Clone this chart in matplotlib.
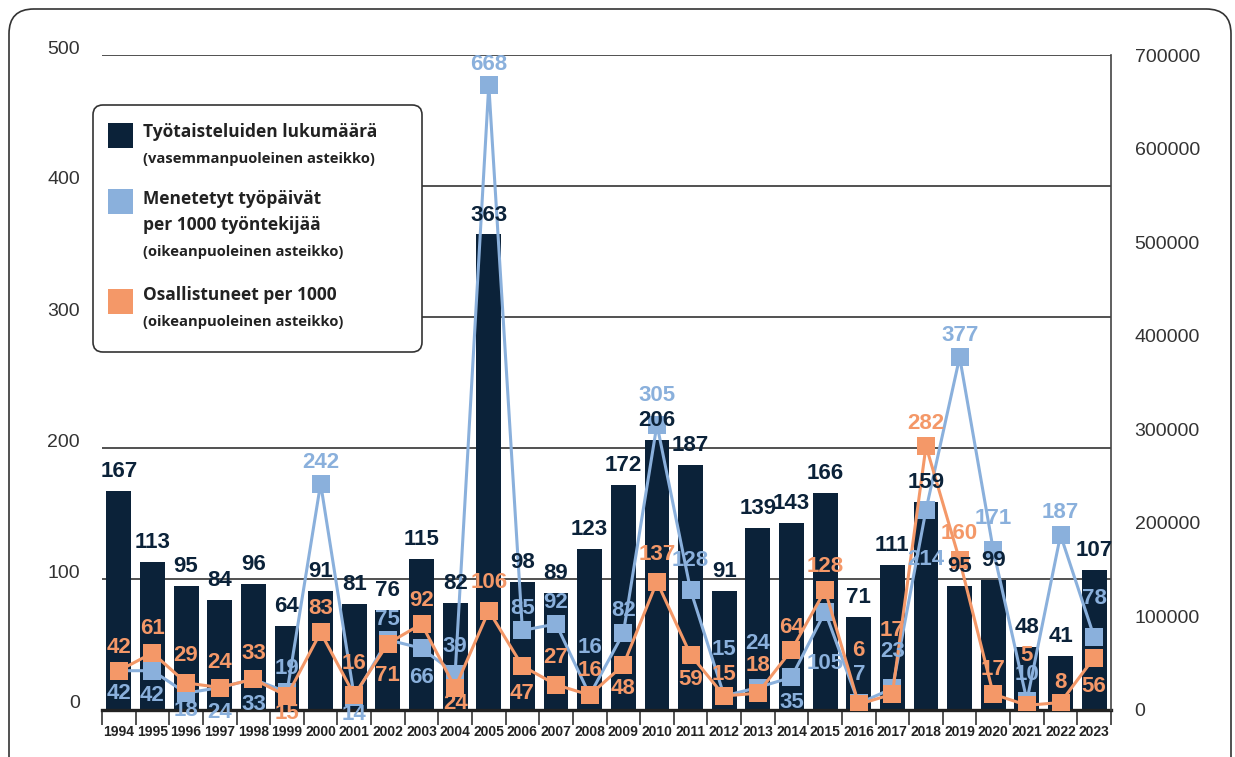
import matplotlib
matplotlib.use("Agg")
import matplotlib.pyplot as plt
from matplotlib.patches import FancyBboxPatch, Rectangle
from matplotlib.transforms import ScaledTranslation
from matplotlib.ticker import FuncFormatter, FixedLocator

# ---------------- data ----------------
years = [str(y) for y in range(1994, 2024)]
strikes = [167, 113, 95, 84, 96, 64, 91, 81, 76, 115, 82, 363, 98, 89, 123,
           172, 206, 187, 91, 139, 143, 166, 71, 111, 159, 95, 99, 48, 41, 107]
lost_days = [42, 42, 18, 24, 33, 19, 242, 14, 75, 66, 39, 668, 85, 92, 16,
             82, 305, 128, 15, 24, 35, 105, 7, 23, 214, 377, 171, 10, 187, 78]
participants = [42, 61, 29, 24, 33, 15, 83, 16, 71, 92, 24, 106, 47, 27, 16,
                48, 137, 59, 15, 18, 64, 128, 6, 17, 282, 160, 17, 5, 8, 56]

legend_titles = ["Työtaisteluiden lukumäärä",
                 "Menetetyt työpäivät\nper 1000 työntekijää",
                 "Osallistuneet per 1000"]
legend_subs = ["(vasemmanpuoleinen asteikko)",
               "(oikeanpuoleinen asteikko)",
               "(oikeanpuoleinen asteikko)"]

# label placement: vertical offset of label centre from marker, in pixels (+ = above)
blue_off = [-23, -25, -17, -25, -25, 24, 21, -18, 20, -29, 27, 20, 22, 21, 48,
            23, 29, 30, 46, 44, -25, -52, 29, 37, -50, 22, 31, 26, 23, 39]
orange_off = [23, 24, 27, 25, 26, -18, 24, 32, -32, 23, -16, 28, -27, 27, 25,
              -23, 27, -25, 21, 28, 23, 24, 54, 64, 23, 27, 25, 50, 20, -29]

# ---------------- style ----------------
NAVY = "#0B2239"
BLUE = "#8AB0DC"
ORANGE = "#F49868"
GRID = "#333333"
NUMFONT = "Liberation Sans"

W, H = 1235, 757
fig = plt.figure(figsize=(W / 100, H / 100), dpi=100)

def fx(px):
    return px / W

def fy(py):
    return 1 - py / H

# outer rounded frame
frame = FancyBboxPatch((fx(9), fy(785)), fx(1231) - fx(9), fy(9) - fy(785),
                       boxstyle="round,pad=0,rounding_size=0.02",
                       transform=fig.transFigure, fill=False,
                       edgecolor="#333333", linewidth=1.2, mutation_aspect=W / H)
fig.patches.append(frame)

ax = fig.add_axes([fx(102), fy(710), fx(1111) - fx(102), fy(55) - fy(710)])
ax2 = ax.twinx()

x = list(range(len(years)))
ax.bar(x, strikes, width=0.74, color=NAVY, zorder=2)
ax.set_xlim(-0.5, len(years) - 0.5)
ax.set_ylim(0, 500)
ax2.set_ylim(0, 700)

# grid lines on left scale
for v in [100, 200, 300, 400, 500]:
    ax.axhline(v, color=GRID, linewidth=1.2, zorder=1)

# spines
for s in ["left", "top", "right"]:
    ax.spines[s].set_visible(False)
for s in ["left", "top", "bottom"]:
    ax2.spines[s].set_visible(False)
ax.spines["bottom"].set_linewidth(2.4)
ax.spines["bottom"].set_color("#222222")
ax.spines["bottom"].set_zorder(5)
ax2.spines["right"].set_color("#444444")
ax2.spines["right"].set_linewidth(1.2)

# left ticks
ax.set_yticks([0, 100, 200, 300, 400, 500])
ax.tick_params(axis="y", length=0, pad=16, labelsize=14, labelcolor="#333333")
for lab in ax.get_yticklabels():
    lab.set_fontfamily(NUMFONT)
    lab.set_transform(lab.get_transform() + ScaledTranslation(0, 8 / 100, fig.dpi_scale_trans))

# right ticks
ax2.set_yticks([0, 100, 200, 300, 400, 500, 600, 700])
ax2.yaxis.set_major_formatter(FuncFormatter(lambda v, p: f"{int(round(v * 1000))}"))
ax2.tick_params(axis="y", length=0, pad=17, labelsize=14, labelcolor="#333333")
for lab in ax2.get_yticklabels():
    lab.set_fontfamily(NUMFONT)

# x ticks: years + separators
ax.set_xticks(x)
ax.set_xticklabels(years, fontsize=10, fontweight="bold", fontfamily=NUMFONT, color="#222222")
ax.tick_params(axis="x", length=0, pad=11)
ax.xaxis.set_minor_locator(FixedLocator([i - 0.5 for i in range(len(years) + 1)]))
ax.tick_params(axis="x", which="minor", length=11, width=1.2, color="#333333", direction="out")

# lines
ax2.plot(x, lost_days, color=BLUE, linewidth=2.2, marker="s", markersize=13,
         markeredgewidth=0, zorder=3)
ax2.plot(x, participants, color=ORANGE, linewidth=2.2, marker="s", markersize=13,
         markeredgewidth=0, zorder=4)

# labels
lab_kw = dict(ha="center", va="center", fontsize=16, fontweight="bold",
              fontfamily=NUMFONT, textcoords="offset points", zorder=10,
              annotation_clip=False)
PT = 0.72  # points per pixel at 100 dpi
for i, v in enumerate(lost_days):
    ax2.annotate(str(v), xy=(i, v), xytext=(0, blue_off[i] * PT), color=BLUE, **lab_kw)
for i, v in enumerate(participants):
    ax2.annotate(str(v), xy=(i, v), xytext=(0, orange_off[i] * PT), color=ORANGE, **lab_kw)
for i, v in enumerate(strikes):
    ax2.annotate(str(v), xy=(i, v), xycoords=ax.transData, xytext=(0, 14),
                 color=NAVY, **lab_kw)

# legend box
lg = FancyBboxPatch((fx(93), fy(352)), fx(422) - fx(93), fy(105) - fy(352),
                    boxstyle="round,pad=0,rounding_size=0.008",
                    transform=fig.transFigure, facecolor="white",
                    edgecolor="#333333", linewidth=1.2, zorder=20,
                    mutation_aspect=W / H)
fig.patches.append(lg)

LFONT = "Open Sans"
sq_tops = [123, 189, 289]
colors = [NAVY, BLUE, ORANGE]
title_y = [[132], [199, 225], [295]]
sub_y = [159, 252, 322]
for k in range(3):
    fig.patches.append(Rectangle((fx(108), fy(sq_tops[k] + 25)), fx(133) - fx(108),
                                 fy(sq_tops[k]) - fy(sq_tops[k] + 25),
                                 transform=fig.transFigure, facecolor=colors[k],
                                 edgecolor="none", zorder=21))
    for line, yy in zip(legend_titles[k].split("\n"), title_y[k]):
        fig.text(fx(143), fy(yy), line, ha="left", va="center", fontsize=12.5,
                 fontweight="bold", fontfamily=LFONT, color="#222222", zorder=22)
    fig.text(fx(143), fy(sub_y[k]), legend_subs[k], ha="left", va="center",
             fontsize=10.6, fontweight="bold", fontfamily=LFONT, color="#222222", zorder=22)

fig.savefig("out.png", dpi=100)
